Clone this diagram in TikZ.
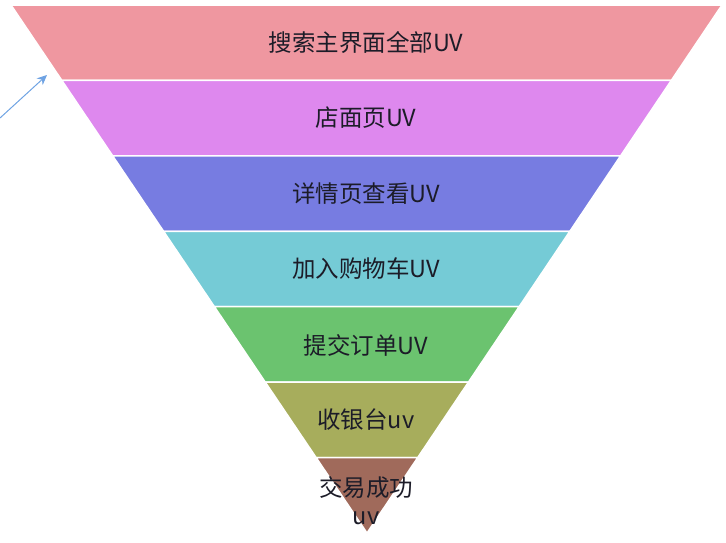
\documentclass[tikz,border=0pt]{standalone}
\usepackage{fontspec}
\newfontfamily\cjk{Noto Sans CJK SC}
\usepackage{xcolor}
\usetikzlibrary{calc,arrows.meta}
\definecolor{lvA}{HTML}{EF97A0}
\definecolor{lvB}{HTML}{DE88EE}
\definecolor{lvC}{HTML}{777CE1}
\definecolor{lvD}{HTML}{75CBD6}
\definecolor{lvE}{HTML}{6BC36F}
\definecolor{lvF}{HTML}{A7AD5C}
\definecolor{lvG}{HTML}{A06A5B}
\definecolor{txtc}{HTML}{1C1C28}
\definecolor{arc}{HTML}{6FA3E3}
\tikzset{
  band/.style={draw=white,line width=1.5pt,line join=round},
  lbl/.style={font=\cjk\fontsize{23.5}{28}\selectfont,text=txtc,align=center,inner sep=1pt},
  ar/.style={-{Stealth[length=10pt,width=9pt]},line width=1pt,arc}
}

\begin{document}
\begin{tikzpicture}[x=1pt,y=-1pt]
\useasboundingbox (0,0) rectangle (726,542);
\coordinate (TL) at (11,5); \coordinate (TR) at (722,5); \coordinate (A) at (367,533);
% funnel bands, top to bottom
\foreach \c [count=\i from 0] in {lvA,lvB,lvC,lvD,lvE,lvF,lvG} {
  \pgfmathsetmacro\ta{\i/7} \pgfmathsetmacro\tb{(\i+1)/7}
  \filldraw[band,fill=\c] ($(TL)!\ta!(A)$) -- ($(TR)!\ta!(A)$) -- ($(TR)!\tb!(A)$) -- ($(TL)!\tb!(A)$) -- cycle;
}
\node[lbl] (search) at (366,43) {搜索主界面全部UV};
\node[lbl] (shop) at (366,118) {店面页UV};
\node[lbl] (detail) at (366,194) {详情页查看UV};
\node[lbl] (cart) at (366,269) {加入购物车UV};
\node[lbl] (order) at (366,345) {提交订单UV};
\node[lbl] (pay) at (366,420) {收银台uv};
\node[lbl] (deal) at (366,501) {交易成功\\uv};
% pointer at the top left
\coordinate (tail) at (0,118); \coordinate (tip) at (47,75);
\draw[ar] (tail) -- (tip);
\end{tikzpicture}
\end{document}
